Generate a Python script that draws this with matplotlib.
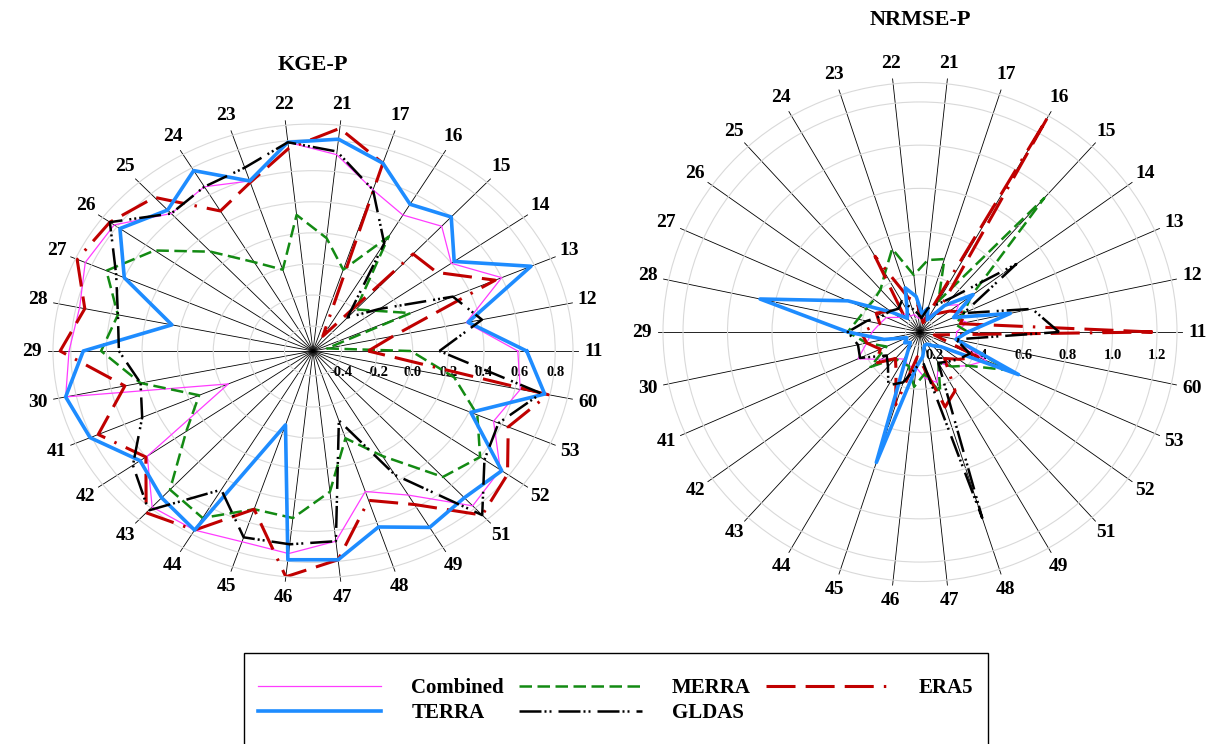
import numpy as np
import matplotlib
matplotlib.use('Agg')
import matplotlib.pyplot as plt
from matplotlib.lines import Line2D
from matplotlib.patches import Rectangle
from matplotlib.transforms import offset_copy

plt.rcParams['font.family'] = ['Liberation Serif', 'DejaVu Serif']
plt.rcParams['font.weight'] = 'bold'

# station ids, counter-clockwise from the right-hand spoke
stations = ['11', '12', '13', '14', '15', '16', '17', '21', '22', '23',
            '24', '25', '26', '27', '28', '29', '30', '41', '42', '43',
            '44', '45', '46', '47', '48', '49', '51', '52', '53', '60']

# KGE-P
kge_combined = [0.59, 0.32, 0.60, 0.40, 0.52, 0.45, 0.53, 0.71, 0.79, 0.59,
                0.66, 0.63, 0.82, 0.84, 0.78, 0.81, 0.86, -0.04, 0.59, 0.79,
                0.77, 0.73, 0.75, 0.67, 0.39, 0.51, 0.78, 0.74, 0.55, 0.63]
kge_merra = [-0.01, -0.48, 0.04, -0.12, -0.20, 0.29, -0.01, 0.17, 0.32, -0.01,
             0.10, 0.30, 0.54, 0.71, 0.56, 0.63, 0.43, 0.14, 0.32, 0.64,
             0.68, 0.51, 0.52, 0.35, 0.03, 0.22, 0.53, 0.60, 0.45, 0.25]
kge_era5 = [-0.25, -0.10, 0.56, 0.30, 0.28, -0.45, 0.71, 0.88, 0.75, 0.58,
            0.48, 0.77, 0.85, 0.89, 0.75, 0.86, 0.52, 0.76, 0.60, 0.84,
            0.77, 0.51, 0.90, 0.79, 0.45, 0.58, 0.86, 0.79, 0.64, 0.79]
kge_terra = [0.64, 0.33, 0.78, 0.42, 0.60, 0.53, 0.71, 0.81, 0.79, 0.59,
             0.78, 0.66, 0.78, 0.60, 0.25, 0.73, 0.86, 0.81, 0.64, 0.71,
             0.77, -0.06, 0.79, 0.79, 0.63, 0.75, 0.71, 0.75, 0.41, 0.77]
kge_gldas = [0.15, 0.41, 0.30, -0.10, -0.27, 0.24, 0.53, 0.73, 0.79, 0.68,
             0.66, 0.63, 0.85, 0.65, 0.56, 0.53, 0.43, 0.49, 0.69, 0.82,
             0.47, 0.70, 0.69, 0.67, -0.09, 0.36, 0.86, 0.63, 0.58, 0.75]

# NRMSE-P
nrmse_combined = [0.30, 0.35, 0.30, 0.35, 0.30, 0.22, 0.20, 0.20, 0.20, 0.22,
                  0.22, 0.25, 0.25, 0.30, 0.32, 0.35, 0.38, 0.44, 0.35, 0.30,
                  0.28, 0.30, 0.30, 0.35, 0.38, 0.30, 0.35, 0.40, 0.46, 0.30]
nrmse_merra = [0.35, 0.30, 0.35, 0.42, 0.97, 0.30, 0.49, 0.47, 0.40, 0.54,
               0.45, 0.40, 0.39, 0.40, 0.42, 0.46, 0.38, 0.30, 0.41, 0.30,
               0.30, 0.30, 0.39, 0.33, 0.43, 0.30, 0.35, 0.40, 0.57, 0.30]
nrmse_era5 = [1.18, 0.32, 0.36, 0.30, 0.25, 1.28, 0.18, 0.20, 0.28, 0.30,
              0.54, 0.25, 0.30, 0.35, 0.32, 0.40, 0.38, 0.33, 0.38, 0.30,
              0.35, 0.49, 0.25, 0.30, 0.50, 0.45, 0.30, 0.35, 0.42, 0.20]
nrmse_terra = [0.35, 0.55, 0.30, 0.43, 0.30, 0.20, 0.25, 0.22, 0.30, 0.35,
               0.25, 0.22, 0.29, 0.49, 0.87, 0.46, 0.30, 0.20, 0.22, 0.20,
               0.25, 0.77, 0.30, 0.25, 0.20, 0.20, 0.22, 0.25, 0.62, 0.30]
nrmse_gldas = [0.76, 0.65, 0.35, 0.67, 0.35, 0.28, 0.25, 0.20, 0.22, 0.25,
               0.30, 0.28, 0.30, 0.32, 0.38, 0.46, 0.42, 0.43, 0.32, 0.35,
               0.42, 0.38, 0.30, 0.28, 1.04, 0.30, 0.32, 0.35, 0.38, 0.30]

kge_ticks = [-0.4, -0.2, 0.0, 0.2, 0.4, 0.6, 0.8]
nrmse_ticks = [0.2, 0.4, 0.6, 0.8, 1.0, 1.2]

styles = {
    'Combined': dict(color='#ff3cff', lw=0.9),
    'MERRA': dict(color='#138a13', lw=1.8, dashes=(5, 2.2)),
    'ERA5': dict(color='#c00000', lw=2.2, dashes=(9.5, 3.3, 9.5, 3.3, 9.5, 3.3, 0.8, 3.3)),
    'TERRA': dict(color='#1e8cff', lw=2.6),
    'GLDAS': dict(color='black', lw=1.8, dashes=(8.8, 1.2, 0.8, 1.2, 0.8, 2.8)),
}

W, H = 1217, 744
fig = plt.figure(figsize=(W / 100, H / 100), dpi=100)


def radar(rect, series, rmin, rmax, rticks, lab_dy):
    ax = fig.add_axes(rect, projection='polar')
    ax.set_aspect('auto')
    theta = np.deg2rad(np.arange(len(stations)) * 360.0 / len(stations))
    ax.set_ylim(rmin, rmax)
    ax.set_xticks(theta)
    ax.set_xticklabels(stations, fontsize=14, fontweight='bold')
    ax.tick_params(axis='x', pad=8, length=0)
    ax.xaxis.grid(False)
    ax.set_yticks(rticks)
    ax.set_yticklabels([])
    ax.yaxis.grid(True, color='#d9d9d9', lw=0.8)
    ax.spines['polar'].set_color('#d9d9d9')
    ax.spines['polar'].set_linewidth(0.8)
    # spokes
    for t in theta:
        ax.plot([t, t], [rmin, rmax + 0.02 * (rmax - rmin)], color='black',
                lw=0.6, zorder=1.2, clip_on=False)
    tr = offset_copy(ax.transData, fig=fig, x=0, y=lab_dy, units='dots')
    for v in rticks:
        ax.text(0, v, f'{v:.1f}', transform=tr, ha='center', va='center',
                fontsize=10.5, fontweight='bold', zorder=1.5)
    tt = np.append(theta, theta[0])
    for name, vals in series:
        ax.plot(tt, np.append(vals, vals[0]), zorder=2, **styles[name])
    return ax


radar([53 / W, 0.2231, 520 / W, 0.6102],
      [('Combined', kge_combined), ('MERRA', kge_merra), ('ERA5', kge_era5),
       ('TERRA', kge_terra), ('GLDAS', kge_gldas)],
      -0.56, 0.9, kge_ticks, -21)

radar([663 / W, 0.2184, 514 / W, 0.6707],
      [('Combined', nrmse_combined), ('MERRA', nrmse_merra), ('ERA5', nrmse_era5),
       ('TERRA', nrmse_terra), ('GLDAS', nrmse_gldas)],
      0.135, 1.29, nrmse_ticks, -23)

fig.text(313 / W, 1 - 65 / H, 'KGE-P', ha='center', va='center',
         fontsize=16, fontweight='bold')
fig.text(920 / W, 1 - 20 / H, 'NRMSE-P', ha='center', va='center',
         fontsize=16, fontweight='bold')

# legend (row-wise: Combined, MERRA, ERA5 / TERRA, GLDAS)
order = ['Combined', 'TERRA', 'MERRA', 'GLDAS', 'ERA5']
handles = [Line2D([], [], **styles[n]) for n in order]
fig.legend(handles, order, loc='center left', bbox_to_anchor=(258 / W, 1 - 700.5 / H),
           ncol=3, frameon=False, borderpad=0, borderaxespad=0,
           handlelength=5.9, handletextpad=1.45, columnspacing=0.72,
           labelspacing=0.25, prop={'size': 15, 'weight': 'bold'})
fig.add_artist(Rectangle((244 / W, -0.01), (988 - 244) / W, 0.01 + 1 - 653 / H,
                         transform=fig.transFigure, fill=False,
                         edgecolor='black', lw=1.0))

fig.savefig('out.png', dpi=100, facecolor='white')
